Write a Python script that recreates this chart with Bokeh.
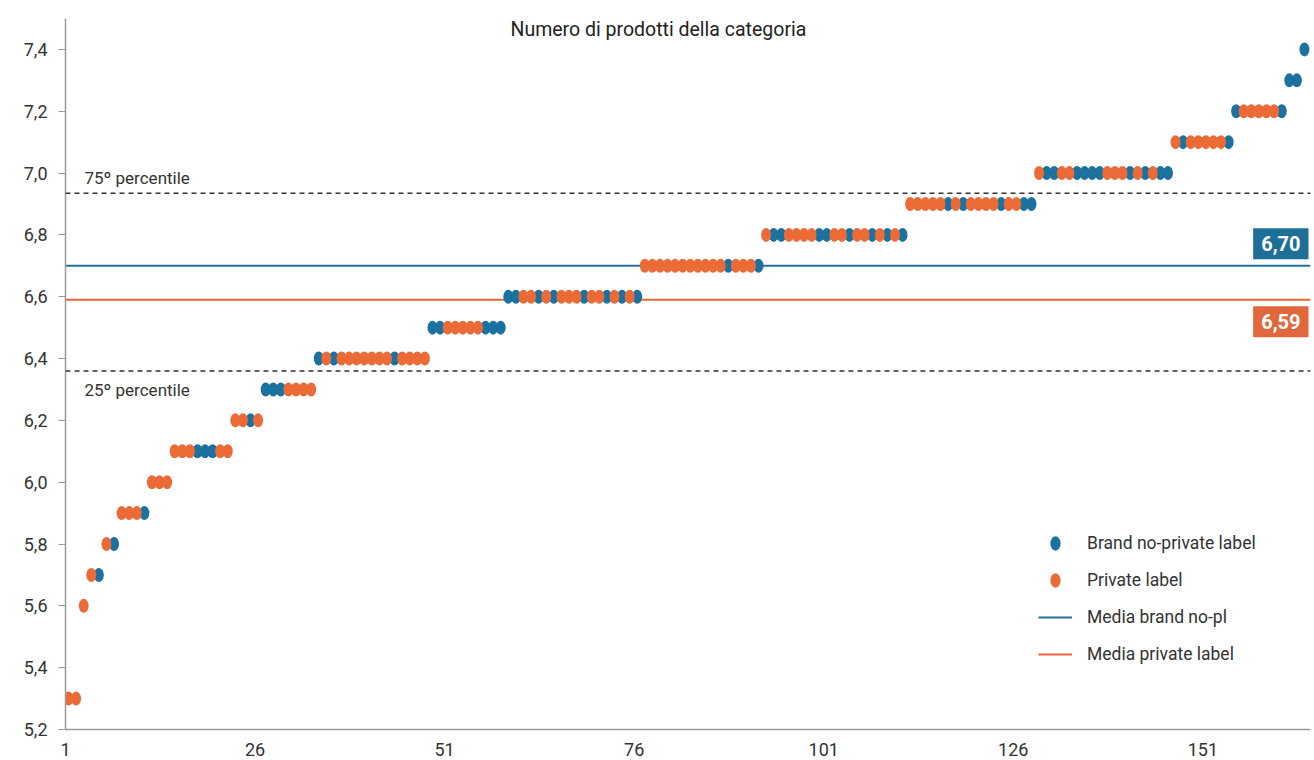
from bokeh.plotting import figure
from bokeh.models import (ColumnDataSource, Range1d, FixedTicker, CustomJSTickFormatter,
                          Span, Label, Legend, LegendItem)
from bokeh.embed import file_html
from bokeh.resources import INLINE

# ---- data ----
group_values = [5.3, 5.6, 5.7, 5.8, 5.9, 6.0, 6.1, 6.2, 6.3, 6.4,
                6.5, 6.6, 6.7, 6.8, 6.9, 7.0, 7.1, 7.2, 7.3, 7.4]
# B = brand no-private label, P = private label (in sorted order)
group_types = ["PP", "P", "PB", "PB", "PPPB", "PPP", "PPPBBBPP", "PPBP", "BBBPPPP",
               "BPBPPPPPPPBPPPP", "BBPPPPPBBB", "BBPPBPBPPPBPPBPBPB",
               "PPPPPPPPPPPBPPPB", "PBBPPPPBBPPBPPBPBPB", "PPPPPBPBPPPPBPPBB",
               "PBBPPBBBBPPPBPBPBB", "PBPPPPPB", "BPPPPPB", "BB", "B"]
x_ticks = [1, 26, 51, 76, 101, 126, 151]
y_ticks = [5.2, 5.4, 5.6, 5.8, 6.0, 6.2, 6.4, 6.6, 6.8, 7.0, 7.2, 7.4]
mean_brand = 6.70
mean_pl = 6.59
p75 = 6.935
p25 = 6.36
mean_brand_text = "6,70"
mean_pl_text = "6,59"

BLUE = "#1b71a0"
ORANGE = "#ec6a36"
BOX_BLUE = "#1e6f98"
BOX_ORANGE = "#e0683c"
FONT = "Roboto"

# expand into points
bx, by, px_, py = [], [], [], []
idx = 1
for v, types in zip(group_values, group_types):
    for t in types:
        if t == "B":
            bx.append(idx + 0.4); by.append(v)
        else:
            px_.append(idx + 0.4); py.append(v)
        idx += 1

x_lo, x_hi = 1, 165.2
p = figure(width=1312, height=758, output_backend="svg", toolbar_location=None,
           x_range=Range1d(x_lo, x_hi), y_range=Range1d(5.2, 7.5),
           min_border_left=65, min_border_right=2, min_border_top=18, min_border_bottom=28)
p.outline_line_color = None
p.xgrid.grid_line_color = None
p.ygrid.grid_line_color = None
p.background_fill_color = "white"

# axes
p.yaxis.ticker = FixedTicker(ticks=y_ticks)
p.yaxis.formatter = CustomJSTickFormatter(code="return tick.toFixed(1).replace('.', ',')")
p.xaxis.ticker = FixedTicker(ticks=x_ticks)
for ax in (p.xaxis, p.yaxis):
    ax.axis_line_color = "#9a9a9a"
    ax.axis_line_width = 1.5
    ax.major_label_text_font = FONT
    ax.major_label_text_font_size = "18px"
    ax.major_label_text_color = "#333333"
    ax.minor_tick_line_color = None
p.yaxis.major_tick_line_color = "#9a9a9a"
p.yaxis.major_tick_in = 0
p.yaxis.major_tick_out = 7
p.yaxis.major_label_standoff = 11
p.xaxis.major_tick_line_color = None
p.xaxis.major_label_standoff = 7

# percentile lines
for val in (p75, p25):
    p.add_layout(Span(location=val, dimension="width", line_color="#333333",
                      line_dash="5 4", line_width=1.5))
p.add_layout(Label(x=x_lo, y=p75, x_offset=19, y_offset=15, text="75º percentile",
                   text_baseline="middle", text_font=FONT, text_font_size="17px",
                   text_color="#333333"))
p.add_layout(Label(x=x_lo, y=p25, x_offset=19, y_offset=-19, text="25º percentile",
                   text_baseline="middle", text_font=FONT, text_font_size="17px",
                   text_color="#333333"))

# mean lines
r_mb = p.line([x_lo, x_hi], [mean_brand, mean_brand], line_color="#2a6f97", line_width=2)
r_mp = p.line([x_lo, x_hi], [mean_pl, mean_pl], line_color="#e8663a", line_width=2)

# points: brand first, private label on top
src_b = ColumnDataSource(dict(x=bx, y=by))
src_p = ColumnDataSource(dict(x=px_, y=py))
r_b = p.ellipse(x="x", y="y", width=10, height=14, width_units="screen",
                height_units="screen", source=src_b, fill_color=BLUE, line_color=None)
r_p = p.ellipse(x="x", y="y", width=10, height=14, width_units="screen",
                height_units="screen", source=src_p, fill_color=ORANGE, line_color=None)

# value boxes
p.add_layout(Label(x=x_hi, y=mean_brand, x_offset=-2, y_offset=22, text=mean_brand_text,
                   text_align="right", text_baseline="middle", text_color="white",
                   text_font=FONT, text_font_style="bold", text_font_size="20px",
                   background_fill_color=BOX_BLUE, padding=8))
p.add_layout(Label(x=x_hi, y=mean_pl, x_offset=-2, y_offset=-22, text=mean_pl_text,
                   text_align="right", text_baseline="middle", text_color="white",
                   text_font=FONT, text_font_style="bold", text_font_size="20px",
                   background_fill_color=BOX_ORANGE, padding=8))

# title inside the frame
p.add_layout(Label(x=79.2, y=7.5, y_offset=-11, text="Numero di prodotti della categoria",
                   text_align="center", text_baseline="middle", text_font=FONT,
                   text_font_size="19.5px", text_color="#222222"))

legend = Legend(items=[LegendItem(label="Brand no-private label", renderers=[r_b]),
                       LegendItem(label="Private label", renderers=[r_p]),
                       LegendItem(label="Media brand no-pl", renderers=[r_mb]),
                       LegendItem(label="Media private label", renderers=[r_mp])],
                location=(973, 65), glyph_width=34, glyph_height=18, label_height=18,
                spacing=17, label_standoff=15, padding=0, margin=0,
                border_line_color=None, background_fill_alpha=0,
                label_text_font=FONT, label_text_font_size="17.5px",
                label_text_color="#333333")
p.add_layout(legend)

open("out.html", "w").write(file_html(p, INLINE))
